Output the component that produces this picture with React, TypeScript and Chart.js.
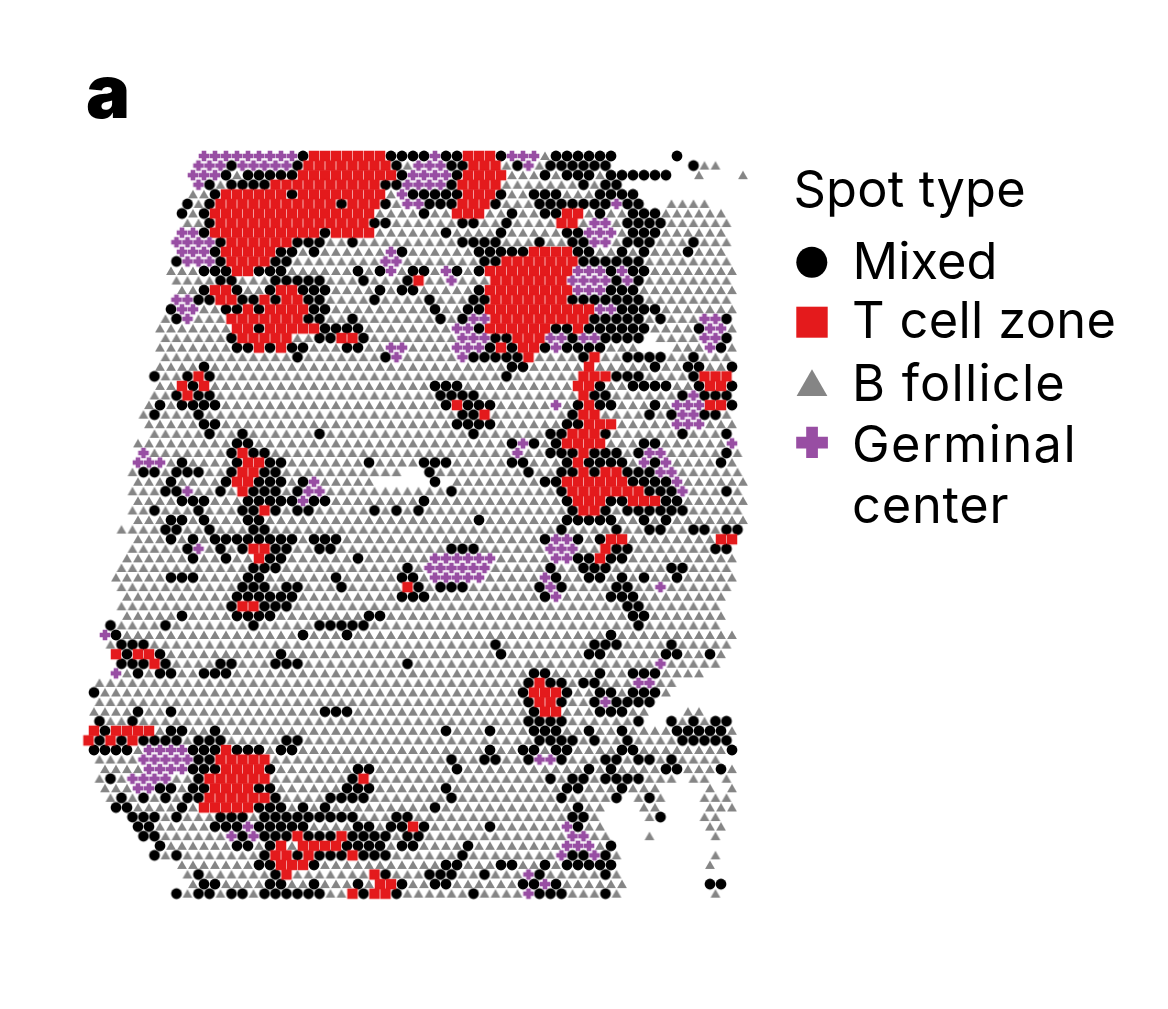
import React, { useEffect, useRef } from "react";
import { Chart, registerables } from "chart.js";

Chart.register(...registerables);

// Spot-type table: one string per array row, col ranges by type.
// M = Mixed, T = T cell zone, B = B follicle, G = Germinal center.
const spotRows: string[] = [
  "G10-18 M19 T20-26 M27-30 G31 M32-33 T34-36 M37 G38-40 B41 M42-47 M53",
  "G10-12 M13 G14-18 M19 T20-27 M28 B29 G30-32 M33-34 T35-37 B38 M39 G40 B41 M42-47 M55 B56-57",
  "G9-11 M12 B13 M14-18 T19-27 M28 G29-32 M33 T34-37 B38-40 M41 B42 M43-45 B46 M47-52 B55 B59",
  "G10 M11 B12 M13-16 T17-26 M27-28 G29-32 M33 T34-37 B38-44 M45 B46 M47-48",
  "B9-10 M11 T12-17 M18 T19-26 B27 G28 M29-33 T34-36 M37 B38-39 M40-42 B43-45 M46-49",
  "M9 B10 M11 T12-22 M23 T24-26 M27 B28 G29-30 M31-33 T34-36 M37 B38-40 M41-47 G48 M49-50 B53-56",
  "M8 B9 M10 T11-25 B26-29 M30 B31-32 T33-35 B36-37 M38 B39-40 M41-42 T43-44 B45 M46 B47-48 M49-51 B52-57",
  "B9-10 M11 T12-25 M26-27 B28-33 M34-35 B36-37 M38 B39-42 T43-44 B45 G46-47 B48 M49-52 B53-58",
  "G8-9 M10 T11-20 M21 T22-25 B26-31 M32 B33-36 M37 B38-42 M43-44 G45-47 B48 M49-51 B52-57",
  "G8-11 M12 T13-18 M19-21 B22-23 M24 B25-33 M34-37 B38-40 M41 B42-43 M44-45 G46-47 B48 M49-51 B52-54 M55 B56-58",
  "G8-10 M11 T12-16 M17-18 B19 M20 B21-26 G27 M28 B29-34 M35-39 T40-43 M44-45 B46-47 M48 B49 M50 B51-53 M54 B55-57",
  "M8 G9-11 M12 T13-16 M17-18 B19-26 G27-28 B29-35 M36-37 T38-44 M45-50 B51-58",
  "B7-9 M10-12 T13-14 M15-17 B18-23 M24 B25 M26 G27 B28 M29-30 B31 G32 M33 B34 M35 T36-43 G44-46 M47 G48 M49-50 B51-58",
  "B8-11 M12-13 B14-16 M17-21 B22-24 M25 B26-28 M29 T30 B31-32 G33 B34-36 T37-43 G44-47 M48 G49 M50 B51-58",
  "B8-9 M10 T11-12 M13 B14-15 M16 T17-18 M19-21 B22-25 M26 B27 M28-29 B30-34 M35 T36-43 G44-46 M47-49 B50-58",
  "G8-9 M10-11 T12-13 M14-15 T16 M17 T18-19 M20-21 B22-25 M26 B27-30 M31 B32-34 M35-36 T37-43 M44-50 B51-58",
  "M7 G8-9 B10-11 M12-13 T14 M15 T16-19 M20-21 B22-30 M31 B32-33 M34-35 T36-45 G46-47 M48-51 B52-58",
  "B7 M8 G9 B10-12 T13-19 M20-21 B22-23 M24 B25-31 M32 B33 M34 G35-36 T37-45 M46-50 B51 M52 B53-55 G56-57 M58",
  "B6-12 T13-14 M15 T16-20 M21-24 B25-32 G33-34 M35 T36-41 M42-43 T44 M45-50 B51-54 M55 G56-57 B58",
  "B7-12 M13 T14-18 B19-20 M21-22 T23-24 M25 B26-33 G34-36 M37-38 T39-41 G42-43 M44 G45-46 M47-50 B52-55 G56-57 M58",
  "B6-12 M13-14 T15 M16 T17 M18-19 B20-22 M23-24 B25-26 G27-28 B29-32 G33-35 M36 T37 M38 T39-40 M41 G42 M43-46 B47-49 B53-55 G56 M57 B58",
  "B7-18 M19 B20-26 M27 G28 B29-33 G34 M35-39 T40 B41-44 M45 T46 B47-48 M49-52 B53-54 M55 B56-58",
  "B6-9 M10 B11-37 M38-39 B40-44 T45 B46-50 M51 B52-53 M54-55 B56-57 M58",
  "M6 B7-8 M9 T10 M11 B12-37 M38 B39-44 T45-47 M48-50 B51-54 M55 T56-58",
  "B6-7 T8 M9 T10 B11-30 M31-33 B34-43 T44-45 M46 B47-48 M49-52 B53-54 M55 T56-57 M58",
  "B6-7 M8 T9 M10-11 B12-31 M32-35 B36-44 T45 M46-47 B48-53 M54 G55 M56-58",
  "B5 M6 B7 M8-11 B12-31 M32 T33 M34-36 B37-41 G42 B43 M44 T45 M46-47 B48-50 M51 B52 G53-55 T56-57 M58",
  "B5 M6 B7-9 M10 B11-33 M34-35 T36 B37-43 M44 T45-46 B47-50 M51 B52 M53 G54-55 M56-57 B58",
  "B5-9 M10-11 B12-32 M33-36 B37-42 M43-44 T45-47 B48-52 G53-55 B56-58",
  "B6-10 M11 B12-13 M14 B15-20 M21 B22-34 M35 B36-41 M42-43 T44-46 M47 B48-53 M54 B55-57 M58",
  "B4-12 M13-14 B15-37 M38 G39 M40 B41 M42 T43-46 B47-49 M50-51 B52-57 G58",
  "G5 B6-12 M13 T14 M15-16 B17-38 G39 B40-41 M42-44 T45 M46-48 B49 M50 G51-52 B53-57 M58 B59",
  "G4-6 B7 M8 B9-12 M13 T14-15 M16-17 B18-24 M25 B26-29 M30-32 B33-37 M38-39 B40-42 M43 T44 M45-48 B49 G50 M51 G52 B53-56 M57 B58",
  "B4 M5-6 B7 M8-10 B11-12 M13 T14-15 M16-17 B18-28 M31 B32-39 M40 B41-42 M43-44 T45 M46 T47-48 M49-51 G52-53 B54-59",
  "B4-6 M7 B8-11 M12 T13-14 M15-17 B18 M19 G20 B21-25 M31 B33-40 M41-42 T43-48 M49-52 G53 B54-59",
  "B4-6 M7-8 G9 B10-11 M12 B13 T14 M15-17 B18 M19 G20-21 B22-32 M33 B34-42 M43 T44-50 M51-53 G54 B55-57 M58 B59",
  "B4-7 M8-10 B11-13 M14-18 G19 M20-21 B22-29 M30 B31-42 M43 T44-46 M47-48 T49-51 M52-53 B54-59",
  "B4-5 M6 B7-9 M10 B11-13 M14-15 T16 M17 B18 M19-20 B21-25 M26 B27 M28 B29 M30 B31-43 M44 T45-46 M47 B48 M49-54 B55-59",
  "B4-6 M7-8 B9 M10 B11-13 M14-15 B16-34 M35 B36-42 M43-47 B48-49 M50 B51 M52 B53-59",
  "B3-6 M7-8 B9-10 M11 B12-14 M15-16 B17-42 M43 B44-47 M48 B49-50 M51-52 B53-54 M55-56 B57 M58-59",
  "B4-6 M7 B8 M9 B10 M11-18 B19 M20-22 B23-40 M41 G42-43 M44 B45 M46 T47-48 B49-56 T57-58",
  "B4-8 M9 G10 B11 M12 B13 M14 T15-16 M17-18 B19-20 M21-22 B23-32 M33-35 B36-41 G42-44 B45-46 T47 M48-49 B50-56 M57-58",
  "B3-8 M9 B10-11 M12 B13-14 T15 M16-17 B18-23 M24 B25-30 G31-36 B37-41 G42-43 M44-45 T46 M47-48 B49-58",
  "B3-14 M15-17 B18-28 M29 B30 G31-36 B37-41 M42 B43-44 M45-47 B48-52 M53-54 B55-58",
  "B2-6 M7-9 B10-13 M14-15 B16-21 M22 B23-27 M28-29 B30 G31-35 B36-40 G41 M42 B43-44 M45-46 B47 M48 B49 M50 B51-52 M53 B54-58",
  "B3-13 M14-16 B17 M18-19 B20-22 M23 B24-28 T29 M30 B31 M32-34 B35-40 M41 G42 M43 B44-47 M48-49 B50-51 G52 B53-58",
  "B3-12 M13-18 B19-27 M28-30 B31-40 M41 G42 B43-46 M47-49 B50-57",
  "B3-12 M13 T14-15 M16-18 B19-48 M49-50 B51-57",
  "B3-7 M8 B9-12 M13-16 B17-24 M25-26 B27-48 M49-50 B51-57",
  "M2 B3-6 M7 B8-14 M15 B16-20 M21-25 B26-49 M50 B51-57",
  "G1 M2 B3-18 M19 B20-22 M23 B24-46 M47 B48-58",
  "B2 M3-5 B6-36 M37 B38-45 M46-48 B49-52 M53 B54-58",
  "T2 M3 T4-5 M6 B7-16 M17 B18-36 M37 B38-44 M45-46 B47-51 M52-53 B54-55 M56 B57",
  "M3-5 T6 M7 B8-11 M12-13 B14-16 M17-19 B20-28 M29 B30-51 G52 B53-57",
  "G2 B3 M4 B5 M6-7 B8-9 M10-12 B13-39 M40-41 B42-45 M46 B47-48 M49-51 B52-55",
  "B1-39 M40 T41 M42-43 B44 M45-46 B47-49 G50-51 B52-53",
  "M0 B1-38 M39 T40-42 M43 B44-45 M46-47 B48 M49-51 B52",
  "B1-39 M40 T41-42 M43 B44-45 M46 G47 M48-51",
  "B0-3 M4 B5-6 M7 B8-20 M21-23 B24-39 M40 T41-42 B43-45 M46-48 B49-50 B54-55",
  "M1 B2-3 M4 B5-39 M40-43 B44-49 M50 M53 B54 M55 B56 M57-58",
  "T0 M1 T2-5 B6 M7-8 B9-10 M11 B12-31 M32 B33-35 M36 B37-39 M40-42 B43-44 M45 B46-47 M48 B49-52 M53-57 B58",
  "T0 M1 T2 M3 T4 M5-8 B9 M10-12 B13-17 M18-19 B20-40 M41-44 B45 M46 B47-48 M49 B50-53 M54-58",
  "M0-3 B4 G5-8 M9-11 T12 M13-15 B16 M17-18 B19-35 M36 B37-38 M39-40 B41 M42-43 B44-47 M48-49 B50-57 M58",
  "B1-4 G5-9 M10-11 T12-16 B17-32 M33 B34-35 M36-37 B38-39 M40 G41-42 M43 B44-46 M47-48 B49 M50-51 B52 M53 B54-57",
  "B1-4 G5-8 M9-11 T12-15 M16 B17-23 M24-25 B26-32 M33 B34-44 M45 B46 M47 B48-51 M52-53 B54-56 M57 B58",
  "B1 M2 B3 G4-7 B8-9 M10 T11-16 B17-23 M24 T25 B26-41 M42 B43 M44-45 B46 M47-50 B51-53 B55-56 B58",
  "B1-3 G4-5 M6-7 B8 M9-10 T11-14 M15-16 B17-22 M23-25 B26-31 M32 B33-42 M43-44 B45-47 M48 B49-51 B56 B58",
  "B2 M3 B4 M5 B6 M7 B8 M9-10 T11-16 M17 B18-21 M22-25 B26-32 M33 B34-42 M43 B44-47 M48 B50 M51 B52 B56-58",
  "M2-3 B4-7 M8 B9 T10-14 M15-17 B18 M19 B20 M21 B22-30 M31 B32-43 M44 B45-46 B50-51 B56-58",
  "M4-6 B7 M8 B9-11 M12-14 B15 M16-24 B25-27 M28-29 B30-43 M44-45 B46 B51 M52 B56-57",
  "M4-5 B6-10 M11-13 G14 M15-19 B20-23 M24-25 B26 M27-28 T29 M30 B31-35 M36 B37-42 G43 M44 B45-46 B56-57",
  "M5-6 B7-12 G13 M14 G15 M16-18 T19 M20-22 T23 M24-27 B28 M29-30 B31-43 G44-45 B46-47 B51 B57",
  "M6 B7-12 M13-14 B15 M16 T17 B18 T19-22 M23-26 B27 M28-29 B30-33 M34 B35-42 G43-45 B46 M47",
  "M6 B7 M8 B9-15 M16 T17-18 M19 T20 M21-23 T24 M25-27 B28-33 M34 B35-42 G43 M44-45 G46 M47 B48 B57",
  "B8-14 M15-16 T17-19 M20 B21-31 M32-33 B34-36 M37-38 B39-40 M41 B42 M43-47 B56",
  "B9 M10 B11-16 M17 T18 B19-25 T26 M27 B28-30 M31-33 B34-35 M36 B37-39 G40 M41 B42-46 M47 B48",
  "B9 M10-11 B12-15 M16-17 B18-19 M20 B21-23 M24 B25 T26-27 M28 B29-30 M31-32 B33-38 M39-40 G41 M42 B43-48 M56-57",
  "M8 B9 M10-11 B12 M13-14 B15 M16-21 B22-23 T24 M25 T26-27 M28 B29-34 M35 B36-39 G40 M41-43 B44-46 M47 B48 B57",
];

const legendTitle = "Spot type";
const spotLabels: Record<string, string[]> = {
  M: ["Mixed"],
  T: ["T cell zone"],
  B: ["B follicle"],
  G: ["Germinal", "center"],
};
const spotColors: Record<string, string> = {
  M: "#000000",
  T: "#E41A1C",
  B: "#858585",
  G: "#984EA3",
};
const drawOrder = ["B", "G", "T", "M"];

type Pt = { x: number; y: number };

function spotsOf(type: string): Pt[] {
  const out: Pt[] = [];
  spotRows.forEach((row, r) => {
    row.split(" ").forEach((seg) => {
      const m = /^([MTBG])(\d+)(?:-(\d+))?$/.exec(seg);
      if (!m || m[1] !== type) return;
      const a = Number(m[2]);
      const b = m[3] ? Number(m[3]) : a;
      for (let c = a; c <= b; c++) out.push({ x: r % 2 ? c - 0.5 : c, y: r });
    });
  });
  return out;
}

function sprite(type: string): HTMLCanvasElement {
  const cv = document.createElement("canvas");
  const size = 14;
  cv.width = size;
  cv.height = size;
  const ctx = cv.getContext("2d")!;
  ctx.fillStyle = spotColors[type];
  const c = size / 2;
  ctx.beginPath();
  if (type === "M") {
    ctx.arc(c, c, 5.4, 0, Math.PI * 2);
  } else if (type === "T") {
    ctx.rect(c - 5.25, c - 5.25, 10.5, 10.5);
  } else if (type === "B") {
    ctx.moveTo(c, c - 4.5);
    ctx.lineTo(c + 4.9, c + 4.1);
    ctx.lineTo(c - 4.9, c + 4.1);
    ctx.closePath();
  } else {
    ctx.rect(c - 5.3, c - 2.3, 10.6, 4.6);
    ctx.rect(c - 2.3, c - 5.3, 4.6, 10.6);
  }
  ctx.fill();
  return cv;
}

export default function App() {
  const ref = useRef<HTMLCanvasElement>(null);
  useEffect(() => {
    const colStep = 11.0;
    const rowStep = 9.58;
    const chart = new Chart(ref.current!, {
      type: "scatter",
      data: {
        datasets: drawOrder.map((t) => ({
          label: spotLabels[t].join(" "),
          data: spotsOf(t),
          pointStyle: sprite(t) as any,
          pointRadius: 6,
          backgroundColor: spotColors[t],
          borderColor: spotColors[t],
        })),
      },
      options: {
        animation: false,
        responsive: false,
        layout: { padding: 0, autoPadding: false },
        plugins: { legend: { display: false }, tooltip: { enabled: false } },
        scales: {
          x: { type: "linear", display: false, min: -94 / colStep, max: (1168 - 94) / colStep },
          y: { type: "linear", display: false, reverse: true, min: -156 / rowStep, max: (1009 - 156) / rowStep },
        },
      },
    });
    return () => chart.destroy();
  }, []);

  const font = "Inter, 'Noto Sans', sans-serif";
  const size = 50.5;
  return (
    <div style={{ position: "absolute", left: 0, top: 0, width: 1168, height: 1009, background: "#fff", overflow: "hidden" }}>
      <canvas ref={ref} width={1168} height={1009} style={{ position: "absolute", left: 0, top: 0, width: 1168, height: 1009, filter: "blur(0.6px)" }} />
      <svg width={1168} height={1009} style={{ position: "absolute", left: 0, top: 0 }}>
        <text x={86} y={118} fontFamily={font} fontWeight={900} fontSize={74} fill="#000">a</text>
        <text x={793.5} y={207} fontFamily={font} fontSize={size} letterSpacing={0.2} fill="#000">{legendTitle}</text>
        <circle cx={811.8} cy={262.3} r={15.5} fill={spotColors.M} />
        <text x={852.5} y={279} fontFamily={font} fontSize={size} letterSpacing={0.1} fill="#000">{spotLabels.M[0]}</text>
        <rect x={796.3} y={306.7} width={31.4} height={31} fill={spotColors.T} />
        <text x={852} y={338} fontFamily={font} fontSize={size} letterSpacing={0.35} fill="#000">{spotLabels.T[0]}</text>
        <polygon points="812,369.3 827.4,396 796.6,396" fill={spotColors.B} />
        <text x={852} y={401} fontFamily={font} fontSize={size} letterSpacing={1.2} fill="#000">{spotLabels.B[0]}</text>
        <path d="M806.2 426.7h11.7v10h10v11.7h-10v9.6h-11.7v-9.6h-10v-11.7h10z" fill={spotColors.G} />
        <text x={852} y={462} fontFamily={font} fontSize={size} letterSpacing={1.4} fill="#000">{spotLabels.G[0]}</text>
        <text x={852} y={523} fontFamily={font} fontSize={size} letterSpacing={0.8} fill="#000">{spotLabels.G[1]}</text>
      </svg>
    </div>
  );
}
